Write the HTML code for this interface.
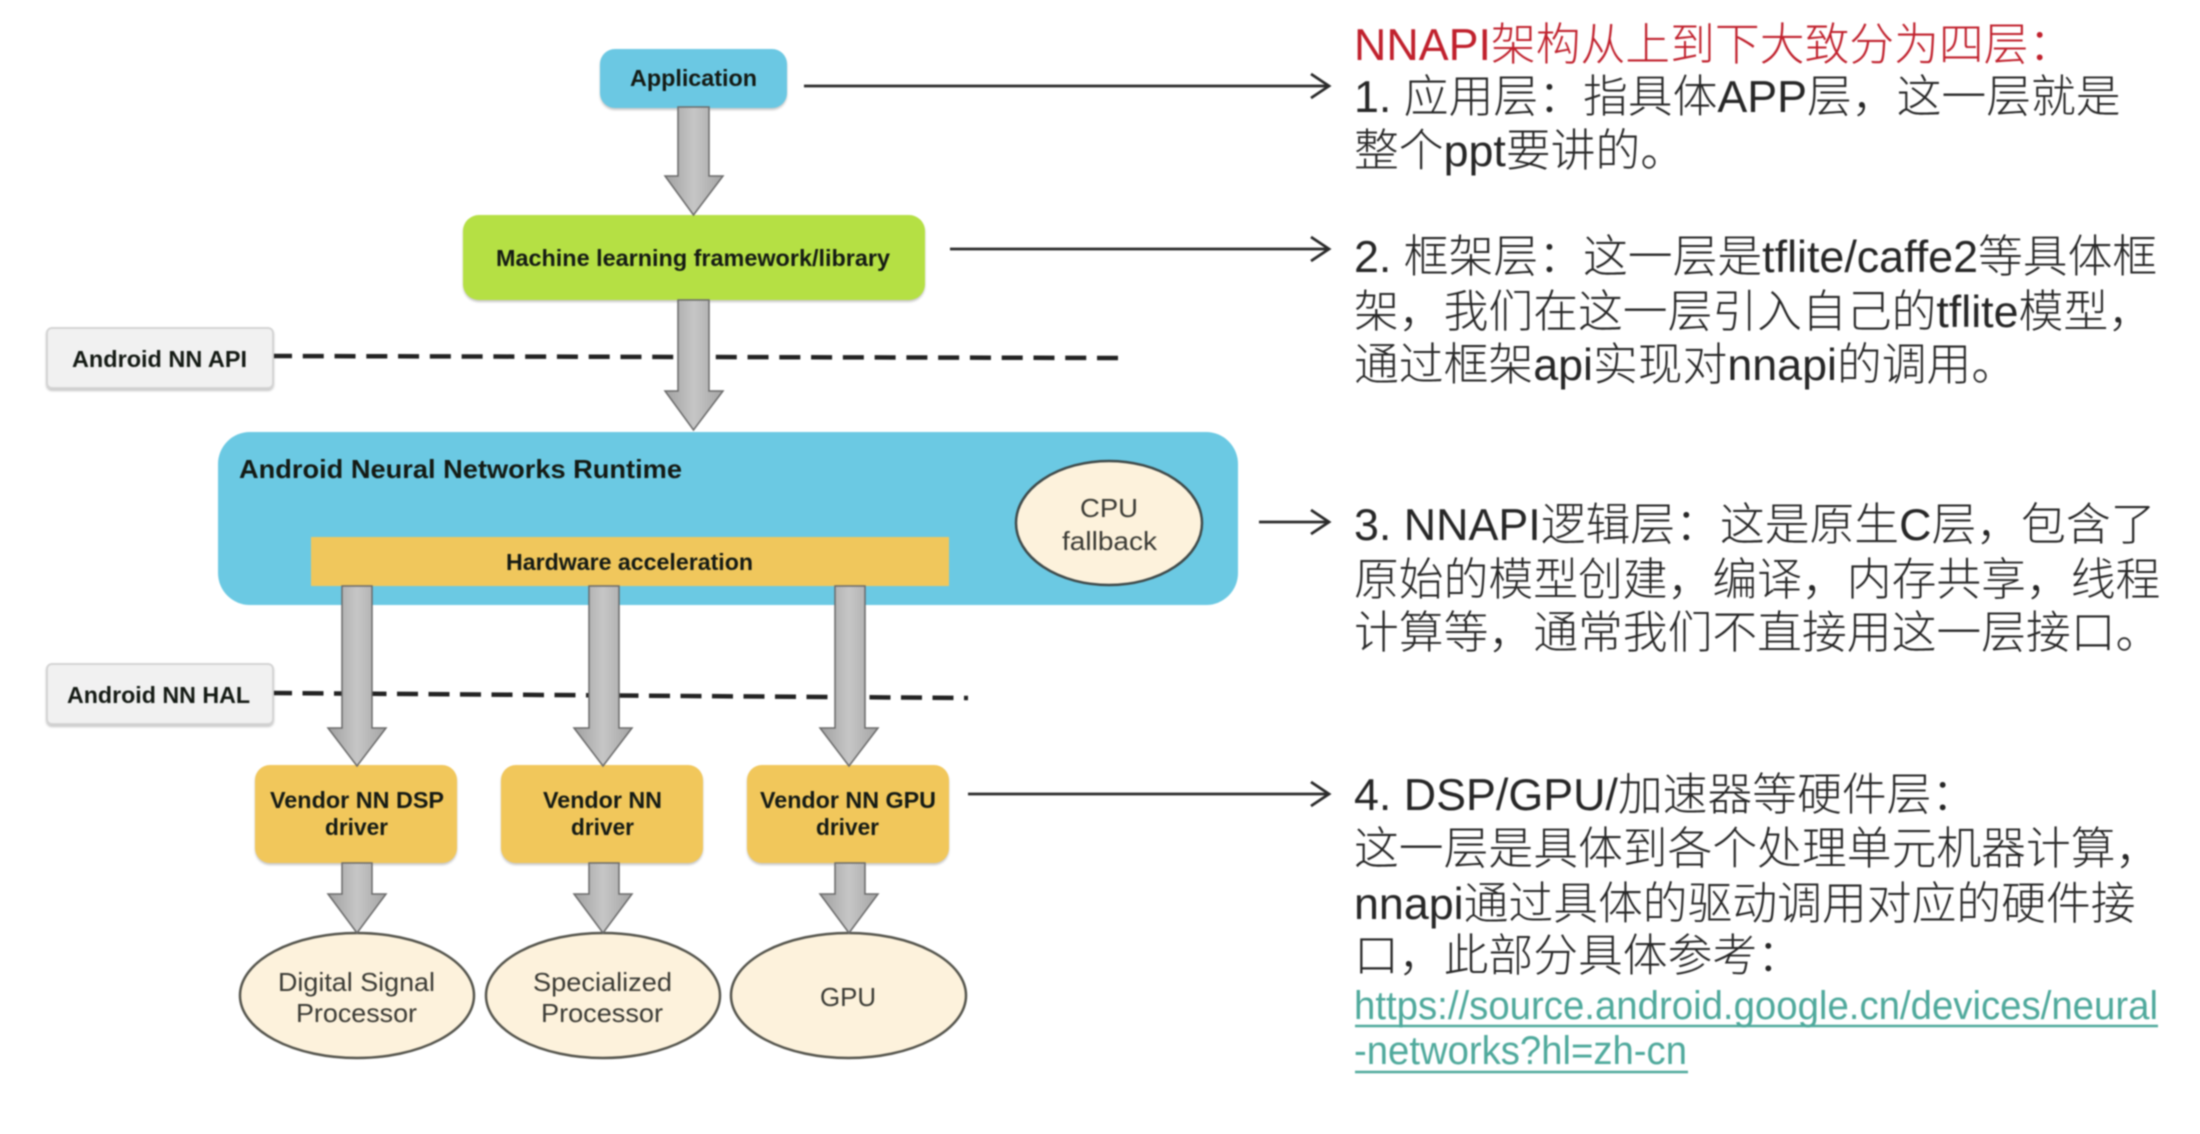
<!DOCTYPE html>
<html lang="zh-Hans">
<head>
<meta charset="utf-8">
<title>NNAPI</title>
<style>
html,body{margin:0;padding:0;background:#fff;width:2200px;height:1134px;overflow:hidden}
svg{display:block;filter:blur(.7px)}
text{font-family:"Liberation Sans","Noto Sans CJK SC",sans-serif}
.b{font-weight:700;fill:#141a14}
.r{font-size:26px;fill:#3a3a34}
.t{font-size:44.8px;fill:#262626;font-weight:300}
.l{font-size:40px;fill:#4fa99c}
.s{filter:drop-shadow(0 2px 1px rgba(0,0,0,.22))}
</style>
</head>
<body>
<svg width="2200" height="1134" viewBox="0 0 2200 1134" xmlns="http://www.w3.org/2000/svg">
<defs>
<linearGradient id="g" x1="0" x2="1" y1="0" y2="0">
<stop offset="0" stop-color="#a0a0a0"/><stop offset=".5" stop-color="#c6c6c6"/><stop offset="1" stop-color="#a4a4a4"/>
</linearGradient>
</defs>
<rect width="2200" height="1134" fill="#fff"/>

<!-- dashed boundaries -->
<path d="M271 356 L1118 358" stroke="#222" stroke-width="4.5" stroke-dasharray="21 10.77" fill="none"/>
<path d="M271 693 L968 698" stroke="#222" stroke-width="4.5" stroke-dasharray="21 10.5" fill="none"/>

<!-- boxes -->
<rect class="s" x="600" y="49" width="187" height="59" rx="15" fill="#6bc8e3"/>
<rect class="s" x="463" y="215" width="462" height="85" rx="16" fill="#b5e044"/>
<rect class="s" x="47" y="328" width="226" height="60" rx="5" fill="#f1f1f1" stroke="#d4d4d4" stroke-width="2"/>
<rect x="218" y="432" width="1020" height="173" rx="32" fill="#6bc9e3"/>
<ellipse cx="1109" cy="523" rx="93" ry="62" fill="#fdf2dc" stroke="#3f4a4a" stroke-width="2.5"/>
<rect x="311" y="537" width="638" height="49" fill="#f0c75c"/>
<rect class="s" x="47" y="664" width="226" height="60" rx="5" fill="#f1f1f1" stroke="#d4d4d4" stroke-width="2"/>
<rect class="s" x="255" y="765" width="202" height="98" rx="15" fill="#f1c75b"/>
<rect class="s" x="501" y="765" width="202" height="98" rx="15" fill="#f1c75b"/>
<rect class="s" x="747" y="765" width="202" height="98" rx="15" fill="#f1c75b"/>
<ellipse cx="357" cy="995.5" rx="117" ry="62.5" fill="#fdf2dc" stroke="#55554d" stroke-width="2.5"/>
<ellipse cx="603" cy="995.5" rx="117" ry="62.5" fill="#fdf2dc" stroke="#55554d" stroke-width="2.5"/>
<ellipse cx="848.5" cy="995.5" rx="117.5" ry="62.5" fill="#fdf2dc" stroke="#55554d" stroke-width="2.5"/>

<!-- block arrows -->
<g fill="url(#g)" stroke="#6a6a6a" stroke-width="1.5" stroke-linejoin="miter">
<path d="M678 107H709V176H723L693.5 215L665 176H678Z"/>
<path d="M678 300H709V391H723L693.5 430L665 391H678Z"/>
<path d="M342 586H372V728H386L357 766L328 728H342Z"/>
<path d="M589 586H619V728H632L603 766L574 728H589Z"/>
<path d="M835 586H865V728H878L849 766L820 728H835Z"/>
<path d="M342 863H372V894H386L357 933L328 894H342Z"/>
<path d="M589 863H619V894H632L603 933L574 894H589Z"/>
<path d="M835 863H865V894H878L849 933L820 894H835Z"/>
</g>

<!-- pointer arrows -->
<g fill="none" stroke="#2a2a2a" stroke-width="2.8">
<path d="M804 86H1328"/><path d="M1311 74L1329 86L1311 98"/>
<path d="M950 249H1328"/><path d="M1311 237L1329 249L1311 261"/>
<path d="M1259 522H1328"/><path d="M1311 510L1329 522L1311 534"/>
<path d="M968 794H1328"/><path d="M1311 782L1329 794L1311 806"/>
</g>

<!-- diagram labels -->
<text class="b" x="630" y="86" font-size="23" textLength="127" lengthAdjust="spacingAndGlyphs">Application</text>
<text class="b" x="496" y="266" font-size="23" textLength="394" lengthAdjust="spacingAndGlyphs">Machine learning framework/library</text>
<text class="b" x="72" y="367" font-size="23" textLength="175" lengthAdjust="spacingAndGlyphs">Android NN API</text>
<text class="b" x="239" y="478" font-size="26" textLength="443" lengthAdjust="spacingAndGlyphs">Android Neural Networks Runtime</text>
<text class="b" x="506" y="570" font-size="23" textLength="247" lengthAdjust="spacingAndGlyphs">Hardware acceleration</text>
<text class="b" x="67" y="703" font-size="23" textLength="183" lengthAdjust="spacingAndGlyphs">Android NN HAL</text>
<text class="b" x="270" y="808" font-size="23" textLength="174" lengthAdjust="spacingAndGlyphs">Vendor NN DSP</text>
<text class="b" x="325" y="835" font-size="23" textLength="63" lengthAdjust="spacingAndGlyphs">driver</text>
<text class="b" x="571" y="835" font-size="23" textLength="63" lengthAdjust="spacingAndGlyphs">driver</text>
<text class="b" x="543" y="808" font-size="23" textLength="119" lengthAdjust="spacingAndGlyphs">Vendor NN</text>
<text class="b" x="760" y="808" font-size="23" textLength="176" lengthAdjust="spacingAndGlyphs">Vendor NN GPU</text>
<text class="b" x="816" y="835" font-size="23" textLength="63" lengthAdjust="spacingAndGlyphs">driver</text>
<text class="r" x="1080" y="517" textLength="58" lengthAdjust="spacingAndGlyphs">CPU</text>
<text class="r" x="1062" y="550" textLength="95" lengthAdjust="spacingAndGlyphs">fallback</text>
<text class="r" x="278" y="991" textLength="157" lengthAdjust="spacingAndGlyphs">Digital Signal</text>
<text class="r" x="296" y="1022" textLength="121" lengthAdjust="spacingAndGlyphs">Processor</text>
<text class="r" x="533" y="991" textLength="139" lengthAdjust="spacingAndGlyphs">Specialized</text>
<text class="r" x="541" y="1022" textLength="122" lengthAdjust="spacingAndGlyphs">Processor</text>
<text class="r" x="820" y="1006" textLength="56" lengthAdjust="spacingAndGlyphs">GPU</text>

<!-- right text -->
<text class="t" x="1354" y="60" style="fill:#c0202c">NNAPI架构从上到下大致分为四层：</text>
<text class="t" x="1354" y="112">1. 应用层：指具体APP层，这一层就是</text>
<text class="t" x="1354" y="166">整个ppt要讲的。</text>
<text class="t" x="1354" y="272">2. 框架层：这一层是tflite/caffe2等具体框</text>
<text class="t" x="1354" y="327">架，我们在这一层引入自己的tflite模型，</text>
<text class="t" x="1354" y="380">通过框架api实现对nnapi的调用。</text>
<text class="t" x="1354" y="540">3. NNAPI逻辑层：这是原生C层，包含了</text>
<text class="t" x="1354" y="595">原始的模型创建，编译，内存共享，线程</text>
<text class="t" x="1354" y="648">计算等，通常我们不直接用这一层接口。</text>
<text class="t" x="1354" y="810">4. DSP/GPU/加速器等硬件层：</text>
<text class="t" x="1354" y="864">这一层是具体到各个处理单元机器计算，</text>
<text class="t" x="1354" y="919">nnapi通过具体的驱动调用对应的硬件接</text>
<text class="t" x="1354" y="971">口，此部分具体参考：</text>
<text class="l" x="1354" y="1019" textLength="804" lengthAdjust="spacingAndGlyphs">https://source.android.google.cn/devices/neural</text>
<text class="l" x="1354" y="1064" textLength="333" lengthAdjust="spacingAndGlyphs">-networks?hl=zh-cn</text>
<path d="M1355 1026H2158M1355 1072H1688" stroke="#4fa99c" stroke-width="2.5" fill="none"/>
</svg>
</body>
</html>
